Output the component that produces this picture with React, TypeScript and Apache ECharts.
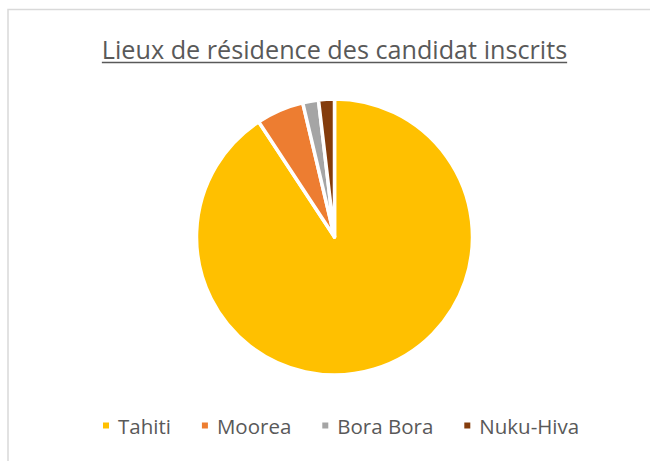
import React, { useEffect, useRef } from "react";
import * as echarts from "echarts";

const titleText = "Lieux de résidence des candidat inscrits";
const categories = ["Tahiti", "Moorea", "Bora Bora", "Nuku-Hiva"];
const values = [49, 3, 1, 1];
const colors = ["#FFC000", "#ED7D31", "#A5A5A5", "#843C0C"];

const FONT = "Open Sans";
const TITLE_SIZE = 25.2;

export default function App() {
  const ref = useRef<HTMLDivElement>(null);
  useEffect(() => {
    if (!ref.current) return;
    const chart = echarts.init(ref.current, null, { renderer: "svg" });
    const ctx = document.createElement("canvas").getContext("2d")!;
    ctx.font = `normal ${TITLE_SIZE}px "${FONT}"`;
    const tw = ctx.measureText(titleText).width;
    const cx = 334.5;
    const option = {
      animation: false,
      backgroundColor: "#ffffff",
      color: colors,
      legend: {
        data: categories,
        bottom: 20,
        left: 96,
        icon: "rect",
        itemWidth: 8,
        itemHeight: 8,
        itemGap: 29,
        textStyle: {
          fontFamily: FONT,
          fontSize: 20.5,
          color: "#595959",
          padding: [0, 0, 0, 3],
        },
      },
      graphic: [
        {
          type: "rect",
          shape: { x: 8, y: 9.5, width: 700, height: 500 },
          style: { fill: "none", stroke: "#D9D9D9", lineWidth: 1.5 },
          silent: true,
        },
        {
          type: "text",
          x: cx,
          y: 49,
          style: {
            text: titleText,
            align: "center",
            verticalAlign: "middle",
            fontFamily: FONT,
            fontSize: TITLE_SIZE,
            fill: "#595959",
          },
          silent: true,
        },
        {
          type: "line",
          shape: { x1: cx - tw / 2, y1: 62.5, x2: cx + tw / 2, y2: 62.5 },
          style: { stroke: "#595959", lineWidth: 1.5 },
          silent: true,
        },
      ],
      series: [
        {
          type: "pie",
          center: [cx, 237],
          radius: 138,
          startAngle: 90,
          clockwise: true,
          label: { show: false },
          labelLine: { show: false },
          itemStyle: { borderColor: "#ffffff", borderWidth: 3.5 },
          data: categories.map((c, i) => ({ name: c, value: values[i] })),
        },
      ],
    };
    chart.setOption(option as any);
    return () => chart.dispose();
  }, []);
  return (
    <div
      ref={ref}
      style={{ position: "fixed", left: 0, top: 0, width: 650, height: 461 }}
    />
  );
}
